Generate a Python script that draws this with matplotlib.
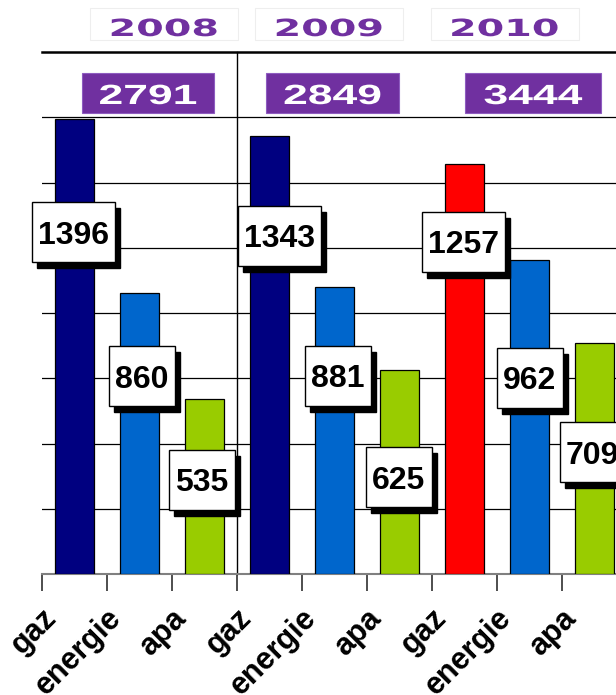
import matplotlib
matplotlib.use("Agg")
import matplotlib.pyplot as plt
from matplotlib.patches import Rectangle
from matplotlib.transforms import Affine2D, ScaledTranslation
from matplotlib.patheffects import AbstractPathEffect

# ---------------- data ----------------
categories = ["gaz", "energie", "apa", "gaz", "energie", "apa", "gaz", "energie", "apa"]
values = [1396, 860, 535, 1343, 881, 625, 1257, 962, 709]
years = ["2008", "2009", "2010"]
totals = [2791, 2849, 3444]

# ---------------- style / layout ----------------
bar_colors = ["#000080", "#0066CC", "#99CC00",
              "#000080", "#0066CC", "#99CC00",
              "#FF0000", "#0066CC", "#99CC00"]
label_y_frac = [0.75, 0.705, 0.54, 0.772, 0.69, 0.475, 0.81, 0.625, 0.527]
label_dx_px = [-1, 2, -3, 10, 3, -1, -1, 0, -2]
purple = "#7030A0"

W, H, DPI = 616, 695, 100
fig = plt.figure(figsize=(W / DPI, H / DPI), dpi=DPI)
ax_left, ax_right, ax_top, ax_bottom = 42, 627, 52, 574
ax = fig.add_axes([ax_left / W, (H - ax_bottom) / H,
                   (ax_right - ax_left) / W, (ax_bottom - ax_top) / H])

x = list(range(len(values)))
ax.bar(x, values, width=0.6, color=bar_colors, edgecolor="black",
       linewidth=0.9, zorder=3)
ax.set_xlim(-0.5, len(values) - 0.5)
ax.set_ylim(0, 1600)

# gridlines
for gv in range(200, 1600, 200):
    ax.axhline(gv, color="black", lw=0.9, zorder=1)
ax.axhline(1600, color="black", lw=1.8, zorder=1, clip_on=False)
# separator between 2008 and 2009
ax.axvline(2.5, color="black", lw=1.0, zorder=2, clip_on=False)

for s in ["left", "right", "top"]:
    ax.spines[s].set_visible(False)
ax.spines["bottom"].set_color("#808080")
ax.spines["bottom"].set_linewidth(1.5)
ax.set_yticks([])

ax.set_xticks(x)
ax.set_xticklabels(categories, rotation=45, ha="right",
                   fontsize=22, fontweight="bold", family="Liberation Sans")
ax.tick_params(axis="x", which="major", length=0, pad=21)
ax.set_xticks([i - 0.5 for i in range(len(values) + 1)], minor=True)
ax.tick_params(axis="x", which="minor", length=12, width=1.3, color="#404040")
off = ScaledTranslation(-12 / DPI, 0, fig.dpi_scale_trans)
for lab in ax.get_xticklabels():
    lab.set_transform(lab.get_transform() + off)


# ---------------- value labels (boxes with shadow) ----------------
def px_box(ax, xd, yd, w, h, dx=0, dy=0, **kw):
    tr = Affine2D().translate(dx, dy) + ScaledTranslation(xd, yd, ax.transData)
    r = Rectangle((-w / 2, -h / 2), w, h, transform=tr, clip_on=False, **kw)
    ax.add_artist(r)
    return r


for i, v in enumerate(values):
    yd = v * label_y_frac[i]
    w = 83 if v >= 1000 else 66
    dxp = label_dx_px[i]
    px_box(ax, i, yd, w, 60, dx=dxp + 5, dy=-6, facecolor="black",
           edgecolor="black", zorder=5)
    px_box(ax, i, yd, w, 60, dx=dxp, facecolor="white", edgecolor="black",
           linewidth=1.0, zorder=6)
    t = ax.text(i, yd, str(v), ha="center", va="center_baseline",
                fontsize=23, fontweight="bold", family="Liberation Sans",
                color="black", zorder=7)
    t.set_transform(ax.transData + Affine2D().translate(dxp, 0))


# ---------------- header (years & totals) ----------------
class HStretch(AbstractPathEffect):
    def __init__(self, sx):
        super().__init__()
        self.sx = sx

    def draw_path(self, renderer, gc, tpath, affine, rgbFace=None):
        ext = tpath.get_extents()
        cx = (ext.x0 + ext.x1) / 2
        a = Affine2D().translate(-cx, 0).scale(self.sx, 1).translate(cx, 0) + affine
        renderer.draw_path(gc, tpath, a, rgbFace)


def fig_rect(cx, cy, w, h, **kw):
    r = Rectangle(((cx - w / 2) / W, 1 - (cy + h / 2) / H), w / W, h / H,
                  transform=fig.transFigure, **kw)
    fig.add_artist(r)


year_cx = [164, 329, 504.5]
total_cx = [148, 332.5, 533]
total_w = [132, 133, 136]
for i, yr in enumerate(years):
    fig_rect(year_cx[i], 24, 148, 32, facecolor="white", edgecolor="#EEEEEE",
             linewidth=0.8)
    fig.text(year_cx[i] / W, 1 - 26.5 / H, yr, ha="center", va="center_baseline",
             fontsize=17, fontweight="bold", family="DejaVu Sans", color=purple,
             path_effects=[HStretch(1.68)])
    fig_rect(total_cx[i], 93, total_w[i], 40, facecolor=purple,
             edgecolor="#8E5CC0", linewidth=0.8)
    fig.text(total_cx[i] / W, 1 - 94 / H, str(totals[i]), ha="center",
             va="center_baseline", fontsize=20, fontweight="bold",
             family="Liberation Sans", color="white",
             path_effects=[HStretch(1.6)])

fig.savefig("out.png", dpi=DPI)
